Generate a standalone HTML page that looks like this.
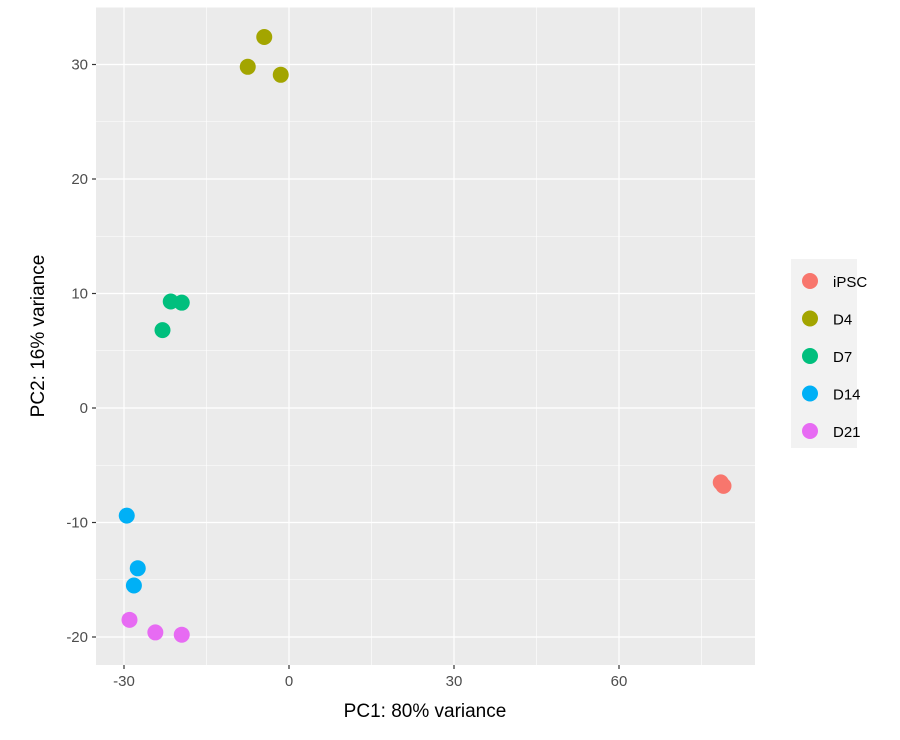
<!DOCTYPE html>
<html><head><meta charset="utf-8"><style>
body{margin:0;background:#fff;font-family:"Liberation Sans",sans-serif}
</style></head><body>
<svg id="chart" width="900" height="735" xmlns="http://www.w3.org/2000/svg"></svg>
<script>
const groups=["iPSC","D4","D7","D14","D21"];
const colors=["#F8766D","#A3A500","#00BF7D","#00B0F6","#E76BF3"];
const pc1=[78.5,79,-7.5,-4.5,-1.5,-23,-21.5,-19.5,-29.5,-27.5,-28.2,-29,-24.3,-19.5];
const pc2=[-6.5,-6.8,29.8,32.4,29.1,6.8,9.3,9.2,-9.4,-14,-15.5,-18.5,-19.6,-19.8];
const grp=[0,0,1,1,1,2,2,2,3,3,3,4,4,4];
const xTicks=[-30,0,30,60];
const yTicks=[-20,-10,0,10,20,30];
const L=96,R=755,T=7,B=665;
const xs=v=>289+(v)*(165/30);
const ys=v=>408-(v)*(114.5/10);
const svg=document.getElementById('chart');
const NS="http://www.w3.org/2000/svg";
function mk(t,a,p){const e=document.createElementNS(NS,t);for(const k in a)e.setAttribute(k,a[k]);(p||svg).appendChild(e);return e;}
const panel=mk('rect',{x:L,y:T,width:R-L,height:B-T,fill:'#EBEBEB'});


// minor grid
for(let i=0;i<xTicks.length+1;i++){const v=xTicks[0]-15+i*30;const x=xs(v);if(x>L&&x<R){const g=mk('line',{x1:x,x2:x,y1:T,y2:B,stroke:'#fff','stroke-width':0.6});}}
for(let i=0;i<yTicks.length+1;i++){const v=yTicks[0]-5+i*10;const y=ys(v);if(y>T&&y<B){const g=mk('line',{x1:L,x2:R,y1:y,y2:y,stroke:'#fff','stroke-width':0.6});}}
xTicks.forEach(v=>{const x=xs(v);
const g=mk('line',{x1:x,x2:x,y1:T,y2:B,stroke:'#fff','stroke-width':1.2});
const tk=mk('line',{x1:x,x2:x,y1:B,y2:B+4,stroke:'#333','stroke-width':1.2});
const t=mk('text',{x:x,y:B+21,'text-anchor':'middle','font-size':15,fill:'#4D4D4D'});t.textContent=v;});
yTicks.forEach(v=>{const y=ys(v);
const g=mk('line',{x1:L,x2:R,y1:y,y2:y,stroke:'#fff','stroke-width':1.2});
const tk=mk('line',{x1:L-4,x2:L,y1:y,y2:y,stroke:'#333','stroke-width':1.2});
const t=mk('text',{x:L-8,y:y+5,'text-anchor':'end','font-size':15,fill:'#4D4D4D'});t.textContent=v;});
pc1.forEach((v,i)=>{const c=mk('circle',{cx:xs(v),cy:ys(pc2[i]),r:8,fill:colors[grp[i]]});});
const xt=mk('text',{x:425,y:717,'text-anchor':'middle','font-size':19,fill:'#000'});xt.textContent='PC1: 80% variance';
const yt=mk('text',{x:44,y:336,'text-anchor':'middle','font-size':19,fill:'#000',transform:'rotate(-90 44 336)'});yt.textContent='PC2: 16% variance';
const lg=mk('rect',{x:791,y:259,width:66,height:189,fill:'#F2F2F2'});
groups.forEach((g,i)=>{const y=281+i*37.5;
const c=mk('circle',{cx:810,cy:y,r:8,fill:colors[i]});
const t=mk('text',{x:833,y:y+6,'font-size':15,fill:'#000'});t.textContent=g;});
</script>
</body></html>
